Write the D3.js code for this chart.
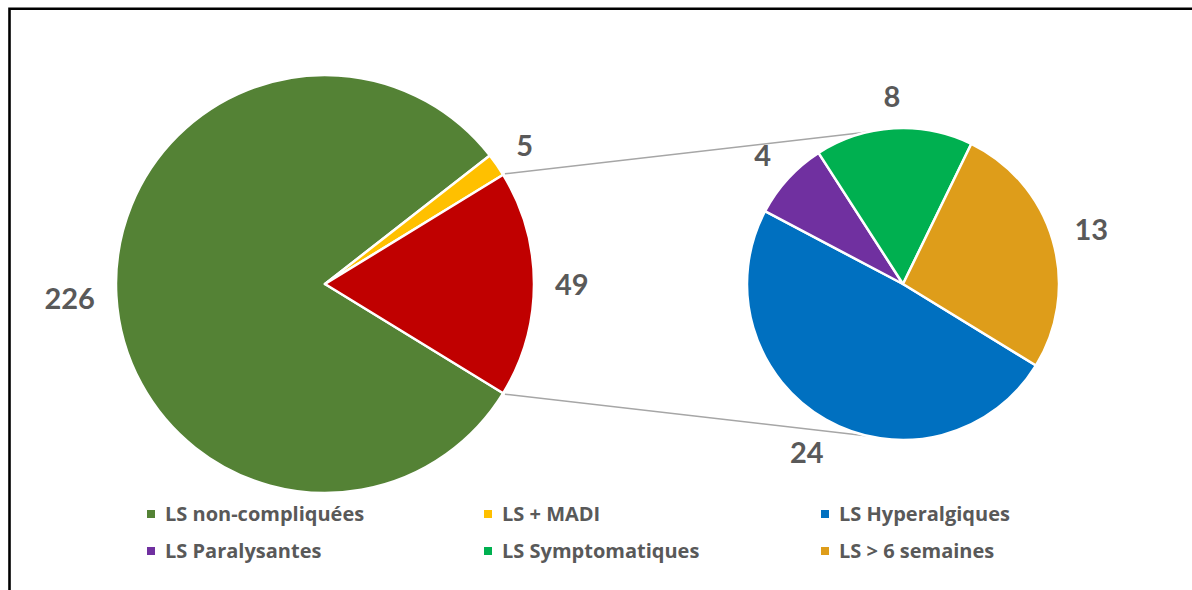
<!DOCTYPE html>
<html><head><meta charset="utf-8">
<script src="https://cdn.jsdelivr.net/npm/d3@7"></script>
<style>html,body{margin:0;padding:0;background:#fff;}svg{display:block;}</style>
</head><body>
<svg id="c" width="1192" height="590"></svg>
<script>
// ---- data ----
const mainCategories = ["LS non-compliquées", "LS + MADI", "LS compliquées"];
const mainValues = [226, 5, 49];
const mainColors = ["#548235", "#FFC000", "#C00000"];
const subCategories = ["LS Hyperalgiques", "LS Paralysantes", "LS Symptomatiques", "LS > 6 semaines"];
const subValues = [24, 4, 8, 13];
const subColors = ["#0070C0", "#7030A0", "#00B050", "#DE9D1A"];
const legendLabels = ["LS non-compliquées", "LS + MADI", "LS Hyperalgiques", "LS Paralysantes", "LS Symptomatiques", "LS > 6 semaines"];
const legendColors = ["#548235", "#FFC000", "#0070C0", "#7030A0", "#00B050", "#DE9D1A"];

const svg = d3.select("#c");
const FONT = "Lato, 'Open Sans', sans-serif";
const LFONT = "'Open Sans', Lato, sans-serif";
const TXT = "#595959";

// frame (left + top border)
svg.append("path").attr("d", "M9.5,590V8.8H1192").attr("fill", "none")
  .attr("stroke", "#000").attr("stroke-width", 2.6);

const deg = Math.PI / 180;
const start = 121.5 * deg;

function drawPie(cx, cy, r, values, colors) {
  const pie = d3.pie().sort(null).startAngle(start).endAngle(start + 2 * Math.PI);
  const arcs = pie(values);
  const arc = d3.arc().innerRadius(0).outerRadius(r);
  const g = svg.append("g").attr("transform", `translate(${cx},${cy})`);
  g.selectAll("path").data(arcs).join("path")
    .attr("d", arc).attr("fill", (d, i) => colors[i])
    .attr("stroke", "#fff").attr("stroke-width", 2.5).attr("stroke-linejoin", "round");
  // labels outside end
  const pad = 21;
  arcs.forEach(d => {
    const a = (d.startAngle + d.endAngle) / 2;
    const ux = Math.sin(a), uy = -Math.cos(a);
    const t = g.append("text").text(d.data)
      .attr("font-family", FONT).attr("font-weight", 700).attr("font-size", 29)
      .attr("fill", TXT).attr("text-anchor", "middle");
    const w = t.node().getComputedTextLength();
    const h = 21;
    const ext = Math.abs(ux) * w / 2 + Math.abs(uy) * h / 2;
    const dist = r + pad + ext;
    t.attr("x", ux * dist).attr("y", uy * dist + h / 2);
  });
  return arcs;
}

// connector lines (drawn under pies)
const M = {cx: 325, cy: 284, r: 209};
const S = {cx: 903, cy: 284, r: 156};
const mainArcs = d3.pie().sort(null).startAngle(start).endAngle(start + 2 * Math.PI)(mainValues);
const red = mainArcs[2];
const conn = svg.append("g");
const pt = (c, a, rr) => [c.cx + Math.sin(a) * rr, c.cy - Math.cos(a) * rr];
const subTop = -13 * deg, subBot = 193 * deg;
[[red.startAngle, subTop], [red.endAngle, subBot]].forEach(([a1, a2]) => {
  const p1 = pt(M, a1, M.r + 2), p2 = pt(S, a2, S.r);
  conn.append("line").attr("x1", p1[0]).attr("y1", p1[1]).attr("x2", p2[0]).attr("y2", p2[1])
    .attr("stroke", "#A6A6A6").attr("stroke-width", 1.5);
});

drawPie(M.cx, M.cy, M.r, mainValues, mainColors);
drawPie(S.cx, S.cy, S.r, subValues, subColors);

// legend
const colX = d3.scalePoint().domain([0, 1, 2]).range([147, 821]);
const rowY = d3.scalePoint().domain([0, 1]).range([521, 558]);
const lg = svg.append("g");
legendLabels.forEach((lab, i) => {
  const c = i % 3, r = Math.floor(i / 3);
  const x = colX(c), y = rowY(r);
  lg.append("rect").attr("x", x).attr("y", y - 11).attr("width", 8).attr("height", 8)
    .attr("fill", legendColors[i]);
  lg.append("text").attr("x", x + 18).attr("y", y).text(lab)
    .attr("font-family", LFONT).attr("font-weight", 700).attr("font-size", 20).attr("fill", TXT);
});
</script>
</body></html>
